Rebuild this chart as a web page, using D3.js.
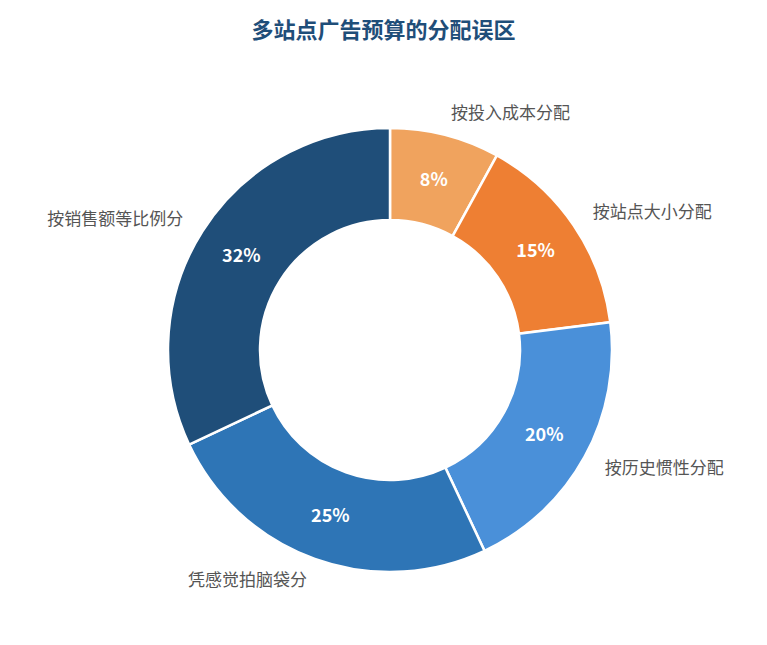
<!DOCTYPE html>
<html><head><meta charset="utf-8">
<script src="https://cdn.jsdelivr.net/npm/d3@7"></script>
<style>body{margin:0;background:#fff}</style>
</head><body>
<div id="chart"></div>
<script>
var categories = ["按投入成本分配","按站点大小分配","按历史惯性分配","凭感觉拍脑袋分","按销售额等比例分"];
var values = [8,15,20,25,32];
var colors = ["#f0a35e","#ee7f33","#4a90d9","#2e75b6","#1f4e79"];

var w = 767, h = 645, cx = 390, cy = 350;
var svg = d3.select("#chart").append("svg").attr("width", w).attr("height", h)
  .style("font-family", "'Noto Sans CJK SC', sans-serif");

svg.append("text").attr("x", w/2).attr("y", 38).attr("text-anchor", "middle")
  .attr("font-size", 22).attr("font-weight", "bold").attr("fill", "#1f4e79")
  .text("多站点广告预算的分配误区");

var pie = d3.pie().sort(null).value(function(d){ return d; });
var arcs = pie(values);
var arc = d3.arc().innerRadius(130).outerRadius(222);
var mid = d3.arc().innerRadius(176).outerRadius(176);
var outer = d3.arc().innerRadius(245).outerRadius(245);

var g = svg.append("g").attr("transform", "translate(" + cx + "," + cy + ")");
g.selectAll("path").data(arcs).enter().append("path")
  .attr("d", arc).attr("fill", function(d,i){ return colors[i]; })
  .attr("stroke", "#fff").attr("stroke-width", 2.5);

g.selectAll("text.pct").data(arcs).enter().append("text").attr("class","pct")
  .attr("transform", function(d){ return "translate(" + mid.centroid(d) + ")"; })
  .attr("text-anchor", "middle").attr("dy", "0.35em")
  .attr("fill", "#fff").attr("font-weight", "bold").attr("font-size", 18)
  .text(function(d){ return d.data + "%"; });

g.selectAll("text.lab").data(arcs).enter().append("text").attr("class","lab")
  .attr("transform", function(d){ return "translate(" + outer.centroid(d) + ")"; })
  .attr("text-anchor", function(d){ return (d.startAngle + d.endAngle)/2 < Math.PI ? "start" : "end"; })
  .attr("dy", "0.35em").attr("fill", "#555").attr("font-size", 17)
  .text(function(d,i){ return categories[i]; });
</script>
</body></html>
